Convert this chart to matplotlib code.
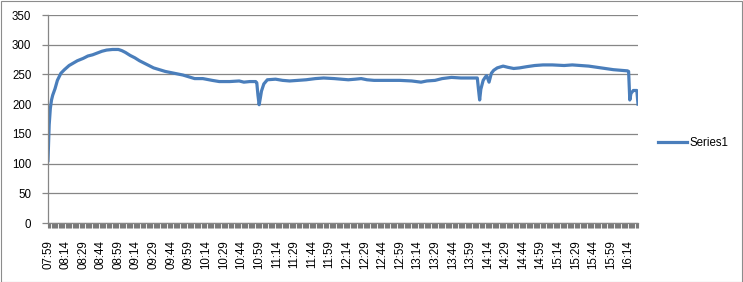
import matplotlib
matplotlib.use("Agg")
import matplotlib.pyplot as plt
from matplotlib.patches import Rectangle
import pandas as pd

# Category labels: one per minute from 07:59
start_time = "07:59"
n_minutes = 504
categories = [t.strftime("%H:%M") for t in pd.date_range("2000-01-01 " + start_time, periods=n_minutes, freq="min")]

# Readings (minute index from 07:59, value)
minute_idx = [0, 1, 2, 3, 4, 6, 8, 11, 14, 18, 25, 30, 34, 38, 42, 46, 50, 55, 60, 63,
              66, 70, 74, 78, 82, 86, 90, 95, 100, 105, 110, 115, 120, 125, 132, 140, 146, 155, 163, 167,
              172, 177, 178, 179, 180, 181, 182, 184, 187, 194, 200, 206, 213, 220, 228, 235, 244, 250, 256, 262,
              267, 272, 278, 290, 300, 310, 318, 323, 330, 336, 344, 352, 360, 366, 367, 368, 369, 371, 373, 374,
              376, 378, 380, 383, 388, 392, 397, 402, 408, 415, 422, 430, 440, 447, 454, 461, 468, 475, 482, 488,
              494, 495, 496, 497, 499, 502, 503]
series1 = [105, 165, 193, 207, 215, 226, 240, 252, 258, 265, 273, 277, 281, 283, 286, 289, 291, 292, 292, 290,
           287, 282, 278, 273, 269, 265, 261, 258, 255, 253, 251, 249, 246, 243, 243, 240, 238, 238, 239, 237,
           238, 238, 236, 215, 199, 210, 222, 234, 241, 242, 240, 239, 240, 241, 243, 244, 243, 242, 241, 242,
           243, 241, 240, 240, 240, 239, 237, 239, 240, 243, 245, 244, 244, 244, 225, 207, 225, 240, 246, 248,
           237, 252, 257, 261, 264, 262, 260, 261, 263, 265, 266, 266, 265, 266, 265, 264, 262, 260, 258, 257,
           256, 255, 207, 218, 223, 223, 200]

y_ticks = [0, 50, 100, 150, 200, 250, 300, 350]
label_step = 15

W, H = 743, 282
fig = plt.figure(figsize=(W / 100, H / 100), dpi=100)
plt.rcParams['font.family'] = ['Liberation Sans', 'DejaVu Sans']

grey = '#868686'
ax = fig.add_axes([48 / W, (H - 223) / H, (638 - 48) / W, (223 - 15) / H])
line, = ax.plot(minute_idx, series1, color='#4A7EBB', lw=2.3, solid_joinstyle='round', label='Series1')

ax.set_xlim(0, n_minutes - 1)
ax.set_ylim(0, 350)
ax.set_yticks(y_ticks)
ax.set_yticklabels([str(v) for v in y_ticks], fontsize=8.3)
ax.grid(axis='y', color=grey, lw=0.9)
ax.set_axisbelow(True)

ax.set_xticks(range(0, n_minutes, label_step))
ax.set_xticklabels([categories[i] for i in range(0, n_minutes, label_step)], rotation=90, fontsize=8.3)
ax.set_xticks(range(n_minutes), minor=True)
ax.tick_params(axis='x', which='major', length=3.5, width=0.8, color='#7A7A7A', pad=9)
ax.tick_params(axis='x', which='minor', length=3.5, width=0.8, color='#7A7A7A')
ax.tick_params(axis='y', which='major', length=4, width=0.9, color=grey, pad=8)

for s in ['top', 'right']:
    ax.spines[s].set_visible(False)
for s in ['left', 'bottom']:
    ax.spines[s].set_color(grey)
    ax.spines[s].set_linewidth(0.9)

fig.legend(handles=[line], loc='center left', bbox_to_anchor=(658 / W, (H - 143) / H),
           frameon=False, borderpad=0, borderaxespad=0, handlelength=2.5, handletextpad=0.2, fontsize=8.3)

fig.patches.append(Rectangle((0.5 / W, 0.5 / H), 1 - 1.5 / W, 1 - 1.5 / H, transform=fig.transFigure,
                             fill=False, edgecolor='#8C8C8C', lw=0.8))

fig.savefig('out.png', dpi=100)
